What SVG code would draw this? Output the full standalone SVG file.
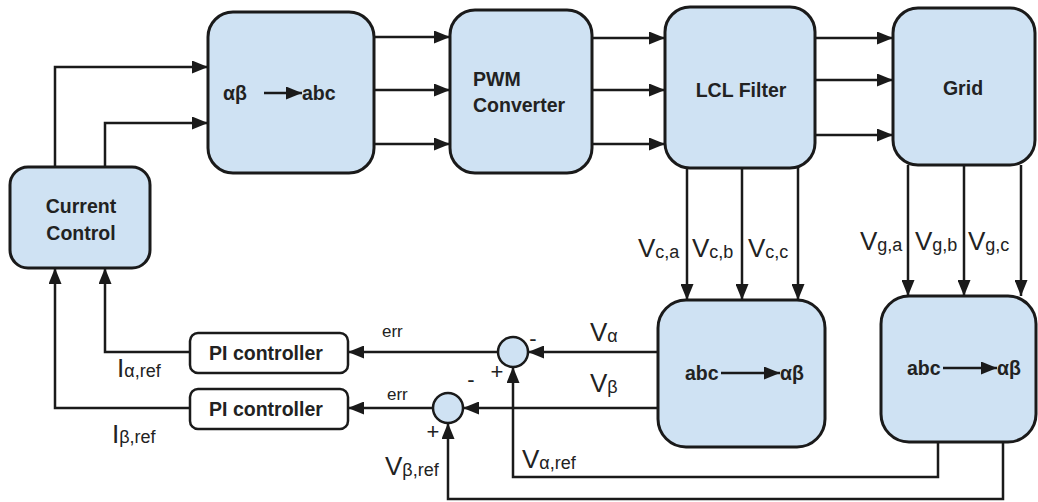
<svg xmlns="http://www.w3.org/2000/svg" width="1038" height="502" viewBox="0 0 1038 502">
<defs>
<style>
.box{fill:#cfe2f3;stroke:#1a1a1a;stroke-width:3}
.pi{fill:#ffffff;stroke:#1a1a1a;stroke-width:2.5}
.ln{fill:none;stroke:#1a1a1a;stroke-width:2.5}
.arr{marker-end:url(#ah)}
.bt{font-family:"Liberation Sans",Arial,sans-serif;font-weight:bold;font-size:19.5px;fill:#222}
.lb{font-family:"Liberation Sans",Arial,sans-serif;font-size:26px;fill:#222}
.sub{font-size:18px}
.sm{font-family:"Liberation Sans",Arial,sans-serif;font-size:17px;fill:#222}
.sg{font-family:"Liberation Sans",Arial,sans-serif;font-size:22px;fill:#222}
</style>
<marker id="ah" viewBox="0 0 16 13" refX="16" refY="6.5" markerWidth="16" markerHeight="13" markerUnits="userSpaceOnUse" orient="auto">
<path d="M0,0 L16,6.5 L0,13 z" fill="#1a1a1a"/>
</marker>
</defs>

<g id="current-control">
<rect class="box" x="10" y="167" width="140" height="101" rx="18"/>
<text class="bt" x="81" y="213" text-anchor="middle">Current</text>
<text class="bt" x="81" y="240" text-anchor="middle">Control</text>
</g>

<g id="ab-to-abc">
<rect class="box" x="208" y="12" width="166" height="161" rx="25"/>
<text class="bt" x="223" y="100">αβ</text>
<line class="ln arr" x1="264" y1="93" x2="302" y2="93"/>
<text class="bt" x="302" y="100">abc</text>
</g>

<g id="pwm">
<rect class="box" x="450" y="10" width="142" height="163" rx="25"/>
<text class="bt" x="473" y="86">PWM</text>
<text class="bt" x="473" y="112">Converter</text>
</g>

<g id="lcl">
<rect class="box" x="665" y="7" width="150" height="161" rx="25"/>
<text class="bt" x="741" y="97" text-anchor="middle">LCL Filter</text>
</g>

<g id="grid">
<rect class="box" x="893" y="8" width="142" height="157" rx="25"/>
<text class="bt" x="963" y="95" text-anchor="middle">Grid</text>
</g>

<g id="abc-to-ab-1">
<rect class="box" x="658" y="300" width="167" height="147" rx="28"/>
<text class="bt" x="685" y="380">abc</text>
<line class="ln arr" x1="721" y1="373" x2="780" y2="373"/>
<text class="bt" x="780" y="380">αβ</text>
</g>

<g id="abc-to-ab-2">
<rect class="box" x="881" y="296" width="155" height="146" rx="28"/>
<text class="bt" x="907" y="375">abc</text>
<line class="ln arr" x1="943" y1="368" x2="997" y2="368"/>
<text class="bt" x="997" y="375">αβ</text>
</g>

<g id="pi-1">
<rect class="pi" x="190" y="333" width="158" height="40" rx="8"/>
<text class="bt" x="266" y="360" text-anchor="middle">PI controller</text>
</g>

<g id="pi-2">
<rect class="pi" x="190" y="389" width="158" height="40" rx="8"/>
<text class="bt" x="266" y="416" text-anchor="middle">PI controller</text>
</g>

<g id="sum-1">
<circle class="box" cx="513" cy="352" r="15" style="stroke-width:2.5"/>
</g>

<g id="sum-2">
<circle class="box" cx="448" cy="408" r="15" style="stroke-width:2.5"/>
</g>

<g id="connectors">
<path class="ln arr" d="M55,167 V67 H208"/>
<path class="ln arr" d="M105,167 V123 H208"/>
<line class="ln arr" x1="374" y1="37" x2="450" y2="37"/>
<line class="ln arr" x1="374" y1="90" x2="450" y2="90"/>
<line class="ln arr" x1="374" y1="144" x2="450" y2="144"/>
<line class="ln arr" x1="592" y1="38" x2="665" y2="38"/>
<line class="ln arr" x1="592" y1="90" x2="665" y2="90"/>
<line class="ln arr" x1="592" y1="144" x2="665" y2="144"/>
<line class="ln arr" x1="815" y1="38" x2="893" y2="38"/>
<line class="ln arr" x1="815" y1="80" x2="893" y2="80"/>
<line class="ln arr" x1="815" y1="135" x2="893" y2="135"/>
<line class="ln arr" x1="687" y1="168" x2="687" y2="300"/>
<line class="ln arr" x1="742" y1="168" x2="742" y2="300"/>
<line class="ln arr" x1="798" y1="168" x2="798" y2="300"/>
<line class="ln arr" x1="908" y1="165" x2="908" y2="296"/>
<line class="ln arr" x1="964" y1="165" x2="964" y2="296"/>
<line class="ln arr" x1="1021" y1="165" x2="1021" y2="296"/>
<line class="ln arr" x1="658" y1="352" x2="528" y2="352"/>
<line class="ln arr" x1="658" y1="408" x2="463" y2="408"/>
<line class="ln arr" x1="498" y1="352" x2="348" y2="352"/>
<line class="ln arr" x1="433" y1="408" x2="348" y2="408"/>
<path class="ln arr" d="M190,352 H105 V268"/>
<path class="ln arr" d="M190,408 H55 V268"/>
<path class="ln arr" d="M938,442 V477 H513 V367"/>
<path class="ln arr" d="M1003,442 V499 H448 V423"/>
</g>

<g id="labels">
<text class="lb" x="638" y="257">V<tspan class="sub" dy="1">c,a</tspan></text>
<text class="lb" x="692" y="257">V<tspan class="sub" dy="1">c,b</tspan></text>
<text class="lb" x="748" y="257">V<tspan class="sub" dy="1">c,c</tspan></text>
<text class="lb" x="860" y="250">V<tspan class="sub" dy="1">g,a</tspan></text>
<text class="lb" x="915" y="250">V<tspan class="sub" dy="1">g,b</tspan></text>
<text class="lb" x="968" y="250">V<tspan class="sub" dy="1">g,c</tspan></text>
<text class="lb" x="590" y="341">V<tspan class="sub" dy="1">α</tspan></text>
<text class="lb" x="590" y="392">V<tspan class="sub" dy="1">β</tspan></text>
<text class="lb" x="522" y="468">V<tspan class="sub" dy="1">α,ref</tspan></text>
<text class="lb" x="385" y="475">V<tspan class="sub" dy="1">β,ref</tspan></text>
<text class="lb" x="117" y="377">I<tspan class="sub" dy="0">α,ref</tspan></text>
<text class="lb" x="112" y="443">I<tspan class="sub" dy="0">β,ref</tspan></text>
<text class="sm" x="382" y="337">err</text>
<text class="sm" x="387" y="400">err</text>
<text class="sg" x="533" y="346" text-anchor="middle">-</text>
<text class="sg" x="497" y="379" text-anchor="middle">+</text>
<text class="sg" x="471" y="387" text-anchor="middle">-</text>
<text class="sg" x="433" y="439" text-anchor="middle">+</text>
</g>
</svg>
